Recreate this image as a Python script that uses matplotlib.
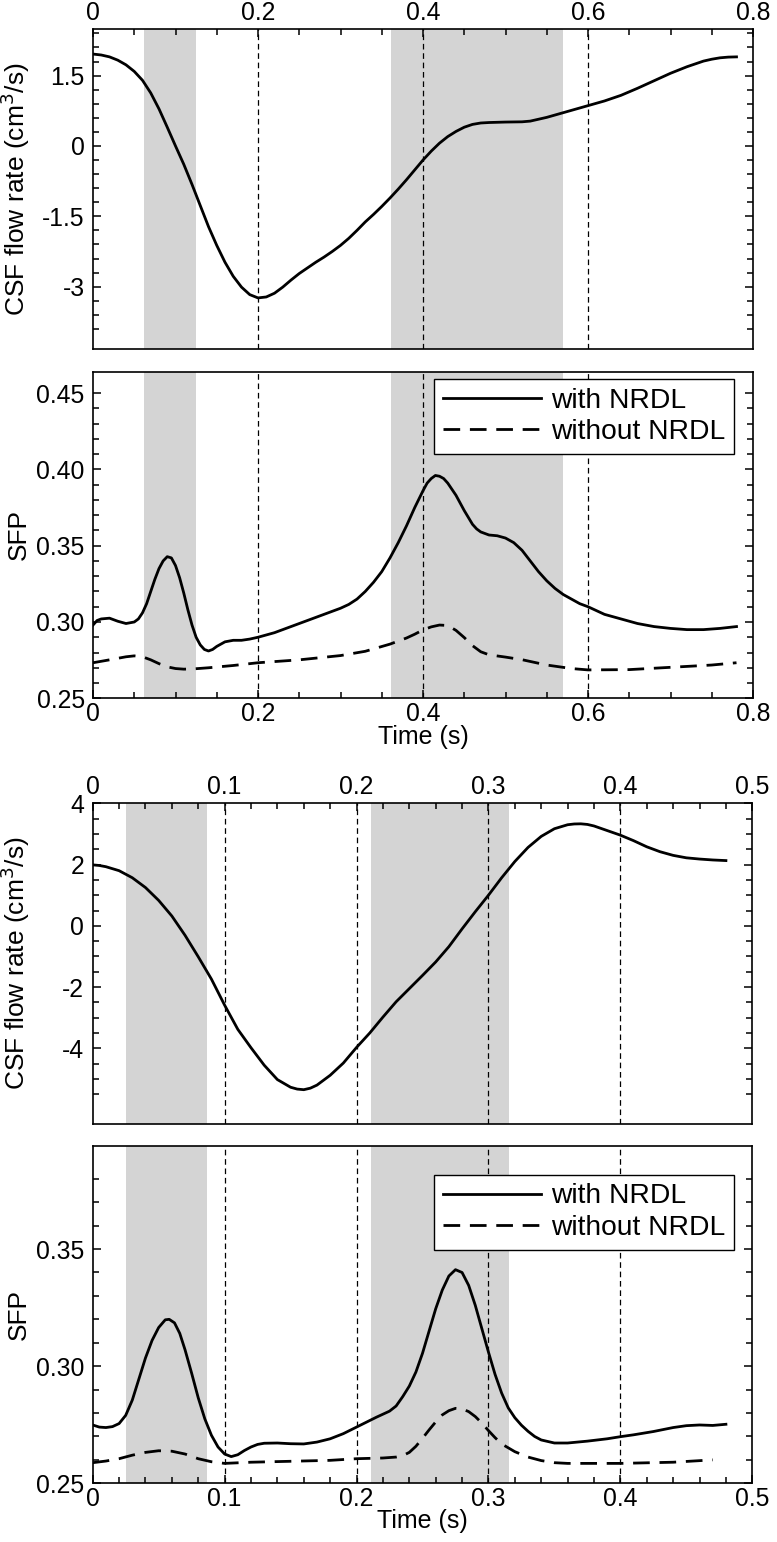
import matplotlib
matplotlib.use('Agg')
import matplotlib.pyplot as plt
import numpy as np
from matplotlib.ticker import FixedLocator, FormatStrFormatter


plt.rcParams['font.family'] = ['Liberation Sans', 'DejaVu Sans']
plt.rcParams['font.size'] = 18
plt.rcParams['axes.unicode_minus'] = False
plt.rcParams['axes.linewidth'] = 1.2

# ---- case A (period 0.8 s) ----
tA_flow = [0, 0.01, 0.02, 0.03, 0.04, 0.05, 0.06, 0.07, 0.08, 0.09, 0.10, 0.11,
           0.12, 0.13, 0.14, 0.15, 0.16, 0.17, 0.18, 0.19, 0.20, 0.21, 0.22, 0.23,
           0.24, 0.25, 0.26, 0.27, 0.28, 0.29, 0.30, 0.31, 0.32, 0.33, 0.34, 0.35,
           0.36, 0.37, 0.38, 0.39, 0.40, 0.41, 0.42, 0.43, 0.44, 0.45, 0.46, 0.47,
           0.48, 0.50, 0.52, 0.53, 0.54, 0.55, 0.56, 0.58, 0.60, 0.62, 0.64, 0.66,
           0.68, 0.70, 0.72, 0.74, 0.75, 0.76, 0.77, 0.78]
qA_flow = [1.96, 1.94, 1.90, 1.83, 1.73, 1.59, 1.40, 1.13, 0.79, 0.40, 0.0, -0.39,
           -0.82, -1.27, -1.72, -2.12, -2.48, -2.78, -3.01, -3.17, -3.24, -3.22, -3.14, -3.01,
           -2.86, -2.72, -2.60, -2.48, -2.37, -2.25, -2.12, -1.97, -1.80, -1.62, -1.46, -1.29,
           -1.11, -0.92, -0.72, -0.51, -0.30, -0.11, 0.06, 0.20, 0.31, 0.40, 0.46, 0.49,
           0.50, 0.51, 0.515, 0.53, 0.57, 0.61, 0.66, 0.76, 0.86, 0.96, 1.08, 1.23,
           1.39, 1.55, 1.69, 1.81, 1.85, 1.88, 1.895, 1.90]

tA_with = [0, 0.005, 0.01, 0.02, 0.03, 0.04, 0.05, 0.055, 0.06, 0.065, 0.07, 0.075,
           0.08, 0.085, 0.09, 0.095, 0.10, 0.105, 0.11, 0.115, 0.12, 0.125, 0.13, 0.135,
           0.14, 0.145, 0.15, 0.16, 0.17, 0.18, 0.19, 0.20, 0.22, 0.24, 0.26, 0.28,
           0.30, 0.31, 0.32, 0.33, 0.34, 0.35, 0.36, 0.37, 0.38, 0.39, 0.40, 0.405,
           0.41, 0.415, 0.42, 0.425, 0.43, 0.435, 0.44, 0.45, 0.46, 0.465, 0.47, 0.48,
           0.49, 0.50, 0.51, 0.52, 0.53, 0.54, 0.55, 0.56, 0.57, 0.58, 0.59, 0.60,
           0.62, 0.64, 0.66, 0.68, 0.70, 0.72, 0.74, 0.76, 0.78]
sA_with = [0.298, 0.301, 0.302, 0.3025, 0.3005, 0.299, 0.300, 0.302, 0.306, 0.312, 0.320, 0.328,
           0.335, 0.340, 0.3428, 0.342, 0.337, 0.329, 0.319, 0.308, 0.298, 0.290, 0.285, 0.282,
           0.281, 0.282, 0.284, 0.287, 0.288, 0.288, 0.2888, 0.290, 0.293, 0.297, 0.301, 0.305,
           0.309, 0.3115, 0.315, 0.320, 0.326, 0.333, 0.342, 0.352, 0.363, 0.375, 0.386, 0.391,
           0.394, 0.396, 0.3955, 0.394, 0.391, 0.387, 0.383, 0.373, 0.364, 0.361, 0.359, 0.357,
           0.3565, 0.355, 0.352, 0.347, 0.340, 0.333, 0.327, 0.322, 0.318, 0.315, 0.312, 0.310,
           0.305, 0.302, 0.299, 0.297, 0.2958, 0.295, 0.295, 0.2958, 0.297]

tA_without = [0, 0.02, 0.04, 0.05, 0.06, 0.07, 0.08, 0.09, 0.10, 0.11, 0.12, 0.14,
              0.17, 0.20, 0.25, 0.30, 0.33, 0.36, 0.38, 0.39, 0.40, 0.41, 0.42, 0.43,
              0.44, 0.45, 0.46, 0.47, 0.48, 0.50, 0.52, 0.55, 0.58, 0.60, 0.65, 0.70,
              0.75, 0.78]
sA_without = [0.2733, 0.2752, 0.2772, 0.2778, 0.2772, 0.2752, 0.2727, 0.2706, 0.2695, 0.2691, 0.2692, 0.2700,
              0.2715, 0.2733, 0.2752, 0.2780, 0.2808, 0.2855, 0.2895, 0.292, 0.2948, 0.2968, 0.298, 0.2977,
              0.2945, 0.2898, 0.2845, 0.2805, 0.2785, 0.277, 0.2753, 0.2718, 0.2695, 0.2686, 0.2688, 0.2703,
              0.2718, 0.2733]

shadeA = [(0.062, 0.1245), (0.3616, 0.570)]
marksA = [0.2, 0.4, 0.6]

# ---- case B (period 0.5 s) ----
tB_flow = [0, 0.005, 0.01, 0.02, 0.03, 0.04, 0.05, 0.06, 0.07, 0.08, 0.09, 0.10,
           0.11, 0.12, 0.13, 0.14, 0.15, 0.155, 0.16, 0.165, 0.17, 0.18, 0.19, 0.20,
           0.21, 0.22, 0.23, 0.24, 0.25, 0.26, 0.27, 0.28, 0.29, 0.30, 0.31, 0.32,
           0.33, 0.34, 0.35, 0.36, 0.365, 0.37, 0.375, 0.38, 0.39, 0.40, 0.41, 0.42,
           0.43, 0.44, 0.45, 0.46, 0.47, 0.48]
qB_flow = [1.99, 1.97, 1.93, 1.80, 1.57, 1.25, 0.83, 0.32, -0.31, -1.01, -1.74, -2.59,
           -3.38, -3.98, -4.55, -5.02, -5.27, -5.33, -5.35, -5.30, -5.20, -4.88, -4.48, -3.97,
           -3.50, -2.98, -2.48, -2.05, -1.62, -1.18, -0.68, -0.10, 0.46, 1.00, 1.57, 2.10,
           2.56, 2.92, 3.17, 3.30, 3.325, 3.33, 3.31, 3.26, 3.11, 2.96, 2.78, 2.58,
           2.42, 2.30, 2.22, 2.18, 2.15, 2.13]

tB_with = [0, 0.005, 0.01, 0.015, 0.02, 0.025, 0.03, 0.035, 0.04, 0.045, 0.05, 0.055,
           0.058, 0.062, 0.066, 0.07, 0.075, 0.08, 0.085, 0.09, 0.095, 0.10, 0.105, 0.11,
           0.115, 0.12, 0.125, 0.13, 0.14, 0.15, 0.16, 0.17, 0.18, 0.19, 0.20, 0.21,
           0.215, 0.22, 0.225, 0.23, 0.235, 0.24, 0.245, 0.25, 0.255, 0.26, 0.265, 0.27,
           0.275, 0.28, 0.285, 0.29, 0.295, 0.30, 0.305, 0.31, 0.315, 0.32, 0.325, 0.33,
           0.335, 0.34, 0.35, 0.36, 0.375, 0.39, 0.40, 0.41, 0.425, 0.44, 0.45, 0.46,
           0.47, 0.48]
sB_with = [0.2749, 0.2740, 0.2738, 0.2742, 0.2755, 0.2790, 0.2855, 0.2945, 0.3035, 0.3110, 0.3165, 0.3198,
           0.3200, 0.3185, 0.3140, 0.3070, 0.2970, 0.2865, 0.2775, 0.2705, 0.2655, 0.2625, 0.2614, 0.2622,
           0.2640, 0.2655, 0.2666, 0.2671, 0.2672, 0.2669, 0.2668, 0.2676, 0.2690, 0.2712, 0.2740, 0.2768,
           0.2782, 0.2795, 0.2808, 0.2830, 0.2870, 0.2915, 0.2975, 0.3055, 0.3150, 0.3245, 0.3325, 0.3385,
           0.3412, 0.3400, 0.3345, 0.3260, 0.3160, 0.3060, 0.2965, 0.2885, 0.2822, 0.2780, 0.2748, 0.2722,
           0.2700, 0.2685, 0.2672, 0.2672, 0.2680, 0.2690, 0.2699, 0.2707, 0.2721, 0.2738, 0.2746, 0.2749,
           0.2747, 0.2752]

tB_without = [0, 0.01, 0.02, 0.03, 0.04, 0.05, 0.06, 0.07, 0.08, 0.09, 0.10, 0.12,
              0.15, 0.18, 0.20, 0.22, 0.23, 0.235, 0.24, 0.245, 0.25, 0.255, 0.26, 0.265,
              0.27, 0.275, 0.28, 0.285, 0.29, 0.295, 0.30, 0.305, 0.31, 0.32, 0.33, 0.34,
              0.35, 0.36, 0.40, 0.44, 0.47]
sB_without = [0.2588, 0.2595, 0.2605, 0.2620, 0.2632, 0.2639, 0.2637, 0.2625, 0.2605, 0.2592, 0.2585, 0.2590,
              0.2594, 0.2598, 0.2605, 0.2608, 0.2612, 0.2618, 0.2632, 0.2658, 0.2692, 0.2728, 0.2762, 0.2792,
              0.2810, 0.2820, 0.2818, 0.2806, 0.2785, 0.2757, 0.2725, 0.2695, 0.2668, 0.2635, 0.2612, 0.2597,
              0.2588, 0.2585, 0.2585, 0.2590, 0.2600]

shadeB = [(0.0252, 0.0864), (0.211, 0.3153)]
marksB = [0.1, 0.2, 0.3, 0.4]

W, H = 777, 1542


def add_axes(left, top, right, bottom):
    return fig.add_axes([left / W, 1 - bottom / H, (right - left) / W, (bottom - top) / H])


def decorate(ax, shade, marks):
    for a, b in shade:
        ax.axvspan(a, b, color='#d4d4d4', lw=0, zorder=0)
    for m in marks:
        ax.axvline(m, color='k', lw=0.9, ls=(0, (4.5, 3)), zorder=1)


def set_ticks(ax, xlim, xmaj, xmin, ylim, ymaj, ymin, yfmt, top):
    ax.set_xlim(xlim)
    ax.set_ylim(ylim)
    ax.xaxis.set_major_locator(FixedLocator(xmaj))
    ax.xaxis.set_minor_locator(FixedLocator(xmin))
    ax.yaxis.set_major_locator(FixedLocator(ymaj))
    ax.yaxis.set_minor_locator(FixedLocator(ymin))
    ax.xaxis.set_major_formatter(FormatStrFormatter('%g'))
    ax.yaxis.set_major_formatter(FormatStrFormatter(yfmt))
    ax.tick_params(which='both', direction='in', left=True, right=True,
                   top=top, bottom=not top, labeltop=top, labelbottom=not top,
                   width=1.1, labelsize=17.8)
    ax.tick_params(which='major', length=6)
    ax.tick_params(which='minor', length=4)
    ax.tick_params(axis='x', pad=3)
    ax.tick_params(axis='y', pad=6)


def add_legend(ax, anchor):
    leg = ax.legend(loc='upper right', bbox_to_anchor=anchor, fontsize=20.3,
                    fancybox=False, framealpha=1, edgecolor='black',
                    handlelength=3.5, handletextpad=0.35, borderpad=0.3,
                    labelspacing=0.2, borderaxespad=0)
    leg.get_frame().set_linewidth(1.0)


fig = plt.figure(figsize=(W / 100, H / 100), dpi=100)

# panel 1
ax1 = add_axes(93, 29.3, 753, 349.3)
decorate(ax1, shadeA, marksA)
ax1.plot(tA_flow, qA_flow, color='k', lw=2.0)
set_ticks(ax1, (0, 0.8), np.arange(0, 0.81, 0.2), np.arange(0, 0.81, 0.05),
          (-4.336, 2.488), [-3, -1.5, 0, 1.5], np.arange(-3.9, 2.45, 0.3), '%g', True)
ax1.set_ylabel('CSF flow rate (cm$^3$/s)', fontsize=19)
ax1.yaxis.set_label_coords(-0.092, 0.5)

# panel 2
ax2 = add_axes(93, 371.7, 753, 698.3)
decorate(ax2, shadeA, marksA)
ax2.plot(tA_with, sA_with, color='k', lw=2.0, label='with NRDL')
ax2.plot(tA_without, sA_without, color='k', lw=2.0, dashes=(6, 3.5), label='without NRDL')
set_ticks(ax2, (0, 0.8), np.arange(0, 0.81, 0.2), np.arange(0, 0.81, 0.05),
          (0.25, 0.464), [0.25, 0.30, 0.35, 0.40, 0.45], np.arange(0.25, 0.455, 0.01), '%.2f', False)
ax2.set_ylabel('SFP', fontsize=19)
ax2.yaxis.set_label_coords(-0.094, 0.5)
ax2.set_xlabel('Time (s)')
ax2.xaxis.set_label_coords(0.5, -0.082)
add_legend(ax2, (0.971, 0.977))

# panel 3
ax3 = add_axes(92.7, 803.3, 752.3, 1124)
decorate(ax3, shadeB, marksB)
ax3.plot(tB_flow, qB_flow, color='k', lw=2.0)
set_ticks(ax3, (0, 0.5), np.arange(0, 0.51, 0.1), np.arange(0, 0.51, 0.02),
          (-6.47, 4.0), [-4, -2, 0, 2, 4], np.arange(-5.5, 4.01, 0.5), '%g', True)
ax3.set_ylabel('CSF flow rate (cm$^3$/s)', fontsize=19)
ax3.yaxis.set_label_coords(-0.092, 0.5)

# panel 4
ax4 = add_axes(92.7, 1146, 752.3, 1483.3)
decorate(ax4, shadeB, marksB)
ax4.plot(tB_with, sB_with, color='k', lw=2.0, label='with NRDL')
ax4.plot(tB_without, sB_without, color='k', lw=2.0, dashes=(6, 3.5), label='without NRDL')
set_ticks(ax4, (0, 0.5), np.arange(0, 0.51, 0.1), np.arange(0, 0.51, 0.02),
          (0.25, 0.394), [0.25, 0.30, 0.35], np.arange(0.25, 0.385, 0.01), '%.2f', False)
ax4.set_ylabel('SFP', fontsize=19)
ax4.yaxis.set_label_coords(-0.094, 0.5)
ax4.set_xlabel('Time (s)')
ax4.xaxis.set_label_coords(0.5, -0.075)
add_legend(ax4, (0.972, 0.914))

fig.savefig('out.png', dpi=100)
plt.close(fig)
